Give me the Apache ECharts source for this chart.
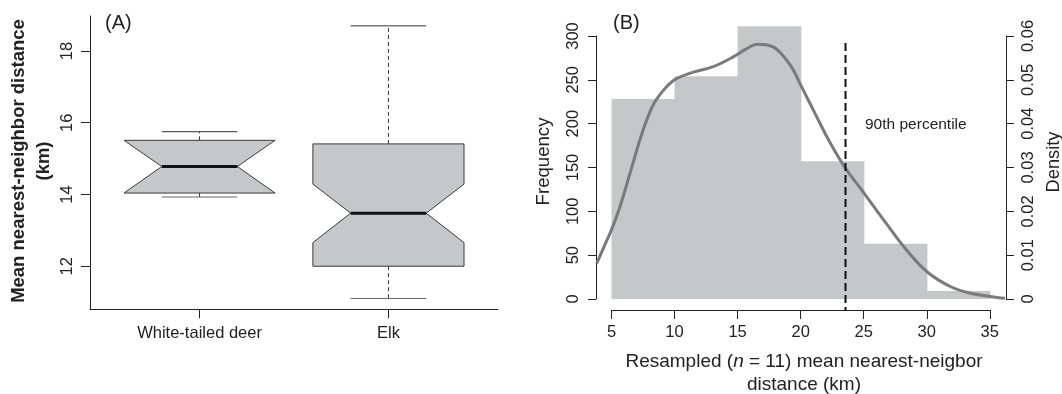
<!DOCTYPE html>
<html><head><meta charset="utf-8">
<script src="https://cdn.jsdelivr.net/npm/echarts@6/dist/echarts.min.js"></script>
<style>html,body{margin:0;padding:0;background:#fff}#c{width:1062px;height:394px}</style>
</head><body><div id="c"></div>
<script>
// ---- Panel A data (notched boxplot) ----
const categories = ['White-tailed deer', 'Elk'];
// [lowerWhisker, q1, notchLow, median, notchHigh, q3, upperWhisker]
const deerStats = [13.93, 14.04, 14.04, 14.78, 15.51, 15.51, 15.75];
const elkStats  = [11.10, 12.00, 12.66, 13.48, 14.29, 15.41, 18.70];
const boxTicks = [12, 14, 16, 18];

// ---- Panel B data (histogram + density) ----
const binEdges  = [5, 10, 15, 20, 25, 30, 35];
const binCounts = [228, 254, 311, 157, 63, 9];
const densityX = [3.83, 4.41, 4.99, 5.67, 6.47, 7.42, 8.23, 9.03, 9.97, 11.19, 13.07, 14.68, 15.76, 16.57, 17.37, 18.18, 19.26, 20.07, 21.14, 22.22, 23.56, 25.04, 26.79, 28.40, 30.02, 31.91, 33.52, 35.13, 36.21];
const densityY = [0.00814, 0.01194, 0.01574, 0.02106, 0.02868, 0.0378, 0.04386, 0.0473, 0.04996, 0.05148, 0.053, 0.05528, 0.05718, 0.0581, 0.05794, 0.0568, 0.053, 0.04844, 0.04236, 0.03628, 0.02982, 0.02412, 0.01726, 0.01118, 0.00622, 0.0028, 0.0013, 0.00052, 0.00016];
const percentile90 = 23.56;
const percentileLineTop = 292;
const freqTicks = [0, 300, 50];
const densTicks = [0, 0.06, 0.01];
const distTicks = [5, 35, 5];

const FONT = 'Liberation Sans, Arial, sans-serif';
const TXT = '#222';

const boxData = [[1].concat(deerStats), [2].concat(elkStats)];
const histData = binCounts.map((c, i) => [binEdges[i], binEdges[i + 1], c]);
const densData = densityX.map((x, i) => [x, densityY[i]]);

function renderBox(params, api) {
  const x = api.value(0);
  const lw = api.value(1), q1 = api.value(2), nlo = api.value(3), med = api.value(4),
        nhi = api.value(5), q3 = api.value(6), uw = api.value(7);
  const hw = 0.4, nw = 0.2;
  const P = (dx, y) => api.coord([x + dx, y]);
  const line = (a, b, style) => ({ type: 'line', shape: { x1: a[0], y1: a[1], x2: b[0], y2: b[1] }, style: style });
  const dash = { stroke: '#333', lineWidth: 1, lineDash: [4, 3] };
  return {
    type: 'group',
    children: [
      line(P(0, q3), P(0, uw), dash),
      line(P(0, q1), P(0, lw), dash),
      line(P(-nw, uw), P(nw, uw), { stroke: '#333', lineWidth: 1 }),
      line(P(-nw, lw), P(nw, lw), { stroke: '#666', lineWidth: 1 }),
      { type: 'polygon', shape: { points: [P(-hw, q1), P(hw, q1), P(hw, nlo), P(nw, med), P(hw, nhi), P(hw, q3), P(-hw, q3), P(-hw, nhi), P(-nw, med), P(-hw, nlo)] },
        style: { fill: '#c6c7c9', stroke: '#3a3a3a', lineWidth: 1 } },
      line(P(-nw, med), P(nw, med), { stroke: '#111', lineWidth: 3 })
    ]
  };
}

function renderHist(params, api) {
  const a = api.coord([api.value(0), api.value(2)]);
  const b = api.coord([api.value(1), 0]);
  return { type: 'rect', shape: { x: a[0], y: a[1], width: b[0] - a[0] + 0.7, height: b[1] - a[1] }, style: { fill: '#c6c7c9' } };
}

function renderPct(params, api) {
  const p = api.coord([api.value(0), api.value(1)]);
  const bottom = params.coordSys.y + params.coordSys.height + 11;
  return { type: 'line', shape: { x1: p[0], y1: p[1], x2: p[0], y2: bottom }, style: { stroke: '#111', lineWidth: 2, lineDash: [8, 4] } };
}

const axisLine = { show: true, lineStyle: { color: TXT, width: 1 } };
const lbl = { color: TXT, fontFamily: FONT, fontSize: 16.5 };

const chart = echarts.init(document.getElementById('c'), null, { renderer: 'canvas' });
chart.setOption({
  animation: false,
  backgroundColor: '#fff',
  grid: [
    { left: 90, top: 16, width: 408, height: 293.3 },
    { left: 596, top: 36, width: 410, height: 263 },
    { left: 611.5, top: 300, width: 378.3, height: 10 }
  ],
  xAxis: [
    { gridIndex: 0, type: 'value', min: 0.42, max: 2.58, axisLine: axisLine, splitLine: { show: false },
      axisTick: { customValues: [1, 2], length: 9, lineStyle: { color: TXT } },
      axisLabel: Object.assign({}, lbl, { customValues: [1, 2], margin: 16, formatter: v => categories[Math.round(v) - 1] }) },
    { gridIndex: 1, type: 'value', min: 3.77, max: 36.29, show: false },
    { gridIndex: 2, type: 'value', min: distTicks[0], max: distTicks[1], interval: distTicks[2], position: 'bottom',
      axisLine: axisLine, splitLine: { show: false },
      axisTick: { length: 9, lineStyle: { color: TXT } },
      axisLabel: Object.assign({}, lbl, { margin: 14, showMinLabel: true, showMaxLabel: true }) }
  ],
  yAxis: [
    { gridIndex: 0, type: 'value', min: 10.8, max: 18.975, axisLine: axisLine, splitLine: { show: false },
      axisTick: { customValues: boxTicks, length: 9, lineStyle: { color: TXT } },
      axisLabel: Object.assign({}, lbl, { customValues: boxTicks, rotate: 90, margin: 14 }) },
    { gridIndex: 1, type: 'value', position: 'left', min: freqTicks[0], max: freqTicks[1], interval: freqTicks[2],
      axisLine: axisLine, splitLine: { show: false },
      axisTick: { length: 8, lineStyle: { color: TXT } },
      axisLabel: Object.assign({}, lbl, { rotate: 90, margin: 14, showMinLabel: true, showMaxLabel: true }) },
    { gridIndex: 1, type: 'value', position: 'right', min: densTicks[0], max: densTicks[1], interval: densTicks[2],
      axisLine: axisLine, splitLine: { show: false },
      axisTick: { length: 8, lineStyle: { color: TXT } },
      axisLabel: Object.assign({}, lbl, { rotate: 90, margin: 14, showMinLabel: true, showMaxLabel: true,
        formatter: v => v === 0 ? '0' : v.toFixed(2) }) },
    { gridIndex: 2, type: 'value', min: 0, max: 1, show: false }
  ],
  series: [
    { type: 'custom', xAxisIndex: 0, yAxisIndex: 0, data: boxData, renderItem: renderBox,
      encode: { x: 0, y: [1, 2, 3, 4, 5, 6, 7] }, clip: false, silent: true },
    { type: 'custom', xAxisIndex: 1, yAxisIndex: 1, data: histData, renderItem: renderHist,
      encode: { x: [0, 1], y: 2 }, clip: false, silent: true },
    { type: 'line', xAxisIndex: 1, yAxisIndex: 2, data: densData, smooth: 0.35, showSymbol: false,
      lineStyle: { color: '#7a7a7a', width: 3 }, clip: false, silent: true, z: 3 },
    { type: 'custom', xAxisIndex: 1, yAxisIndex: 1, data: [[percentile90, percentileLineTop]], renderItem: renderPct,
      encode: { x: 0, y: 1 }, clip: false, silent: true, z: 4 }
  ],
  graphic: [
    { type: 'text', x: 18.6, y: 161, rotation: Math.PI / 2, style: { text: 'Mean nearest-neighbor distance', font: 'bold 18.5px ' + FONT, fill: TXT, align: 'center', verticalAlign: 'middle' } },
    { type: 'text', x: 44, y: 161, rotation: Math.PI / 2, style: { text: '(km)', font: 'bold 18.5px ' + FONT, fill: TXT, align: 'center', verticalAlign: 'middle' } },
    { type: 'text', x: 105, y: 23, style: { text: '(A)', font: '20px ' + FONT, fill: TXT, align: 'left', verticalAlign: 'middle' } },
    { type: 'text', x: 613, y: 23, style: { text: '(B)', font: '20px ' + FONT, fill: TXT, align: 'left', verticalAlign: 'middle' } },
    { type: 'text', x: 543.6, y: 161.5, rotation: Math.PI / 2, style: { text: 'Frequency', font: '18.6px ' + FONT, fill: TXT, align: 'center', verticalAlign: 'middle' } },
    { type: 'text', x: 1054, y: 162, rotation: Math.PI / 2, style: { text: 'Density', font: '18.3px ' + FONT, fill: TXT, align: 'center', verticalAlign: 'middle' } },
    { type: 'text', x: 804, y: 361.7, style: { text: '{a|Resampled (}{i|n}{a| = 11) mean nearest-neigbor}', align: 'center', verticalAlign: 'middle',
        rich: { a: { font: '19px ' + FONT, fill: TXT }, i: { font: 'italic 19px ' + FONT, fill: TXT } } } },
    { type: 'text', x: 804, y: 385, style: { text: 'distance (km)', font: '19px ' + FONT, fill: TXT, align: 'center', verticalAlign: 'middle' } },
    { type: 'text', x: 865, y: 125, style: { text: '90th percentile', font: '15.5px ' + FONT, fill: TXT, align: 'left', verticalAlign: 'middle' } }
  ]
});
</script>
</body></html>
